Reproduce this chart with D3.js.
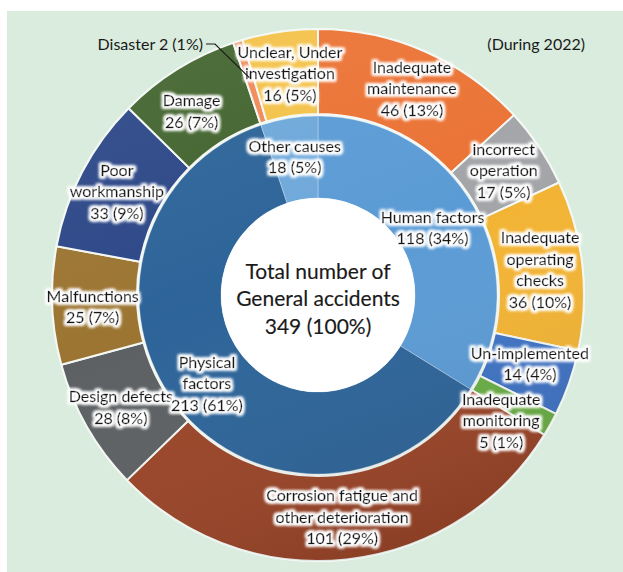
<!DOCTYPE html>
<html>
<head>
<meta charset="utf-8">
<script src="https://cdn.jsdelivr.net/npm/d3@7"></script>
<style>
  html, body { margin: 0; padding: 0; background: #ffffff; }
  svg { display: block; }
  text { font-family: Lato, "Noto Sans", sans-serif; fill: #1a1a1a; }
</style>
</head>
<body>
<svg id="chart" width="623" height="572"></svg>
<script>
// ---------------- data ----------------
const innerCategories = ["Human factors", "Physical factors", "Other causes"];
const innerValues = [118, 213, 18];
const innerLabelLines = [["Human factors"], ["Physical", "factors"], ["Other causes"]];

const outerCategories = [
  "Inadequate maintenance", "incorrect operation", "Inadequate operating checks",
  "Un-implemented", "Inadequate monitoring",
  "Corrosion fatigue and other deterioration", "Design defects", "Malfunctions",
  "Poor workmanship", "Damage",
  "Disaster", "Unclear, Under investigation"
];
const outerValues = [46, 17, 36, 14, 5, 101, 28, 25, 33, 26, 2, 16];
const outerLabelLines = [
  ["Inadequate", "maintenance"], ["incorrect", "operation"], ["Inadequate", "operating", "checks"],
  ["Un-implemented"], ["Inadequate", "monitoring"],
  ["Corrosion fatigue and", "other deterioration"], ["Design defects"], ["Malfunctions"],
  ["Poor", "workmanship"], ["Damage"],
  ["Disaster"], ["Unclear, Under", "investigation"]
];
const centerLines = ["Total number of", "General accidents"];
const periodNote = "(During 2022)";

// ---------------- styles ----------------
const innerColors = ["#5b9bd5", "#2d6499", "#6ea8da"];
const outerColors = ["#eb7335", "#a3a5a8", "#f3b434", "#3f73c4", "#6aae45",
                     "#9b4528", "#5d6063", "#9c7532", "#2d4888", "#43652f",
                     "#f08a5a", "#f4c24a"];
// small label nudges (dx, dy) from computed centroid
const outerNudge = {"Inadequate monitoring": [-12, 17], "Damage": [-8, 6], "Un-implemented": [1, -5],
                    "Unclear, Under investigation": [4, 0], "Inadequate maintenance": [4, -2],
                    "Poor workmanship": [-3, 0], "Malfunctions": [-2, 3], "Design defects": [-3, 2]};
const innerNudge = {"Human factors": [-6, 0], "Physical factors": [-3, 3], "Other causes": [-1, -2]};

const W = 623, H = 572;
const cx = 318, cy = 295;
const rHole = 97, rMid = 179, rOuterIn = 181, rOuter = 266;
const lineH = 21.5;
const fs = 16;

const svg = d3.select("#chart");
const defs = svg.append("defs");

const f = defs.append("filter").attr("id", "halo")
  .attr("x", "-30%").attr("y", "-60%").attr("width", "160%").attr("height", "220%");
f.append("feMorphology").attr("in", "SourceAlpha").attr("operator", "dilate").attr("radius", 1.8).attr("result", "d");
f.append("feGaussianBlur").attr("in", "d").attr("stdDeviation", 1.6).attr("result", "b");
f.append("feFlood").attr("flood-color", "#ffffff").attr("flood-opacity", 1).attr("result", "w");
f.append("feComposite").attr("in", "w").attr("in2", "b").attr("operator", "in").attr("result", "g");
const fm = f.append("feMerge");
fm.append("feMergeNode").attr("in", "g");
fm.append("feMergeNode").attr("in", "g");
fm.append("feMergeNode").attr("in", "SourceGraphic");

const shade = defs.append("linearGradient").attr("id", "shade")
  .attr("gradientUnits", "userSpaceOnUse")
  .attr("x1", -100).attr("y1", -rOuter).attr("x2", 100).attr("y2", rOuter);
shade.append("stop").attr("offset", "0%").attr("stop-color", "#ffffff").attr("stop-opacity", 0.06);
shade.append("stop").attr("offset", "45%").attr("stop-color", "#ffffff").attr("stop-opacity", 0);
shade.append("stop").attr("offset", "100%").attr("stop-color", "#000000").attr("stop-opacity", 0.12);

// background panel
svg.append("rect").attr("x", 7).attr("y", 11).attr("width", W - 7).attr("height", H - 11)
  .attr("fill", "#d9ecdd");

const g = svg.append("g").attr("transform", `translate(${cx},${cy})`);

const pie = d3.pie().sort(null).value(d => d).startAngle(0).endAngle(2 * Math.PI);
const innerArcs = pie(innerValues);
const outerArcs = pie(outerValues);
const total = d3.sum(innerValues);
const pct = v => Math.round(v / total * 100) + "%";

const arcInner = d3.arc().innerRadius(rHole).outerRadius(rMid);
const arcOuter = d3.arc().innerRadius(rOuterIn).outerRadius(rOuter);

// ring gap background
g.append("circle").attr("r", rOuter + 1).attr("fill", "#f1f6f1");

g.selectAll("path.outer").data(outerArcs).join("path")
  .attr("class", "outer")
  .attr("d", arcOuter)
  .attr("fill", (d, i) => outerColors[i])
  .attr("stroke", "#f4f8f4").attr("stroke-width", 2);

g.selectAll("path.inner").data(innerArcs).join("path")
  .attr("class", "inner")
  .attr("d", arcInner)
  .attr("fill", (d, i) => innerColors[i])
  .attr("stroke", "rgba(255,255,255,0.3)").attr("stroke-width", 1);

// shading overlay
g.append("path").attr("d", d3.arc().innerRadius(rHole).outerRadius(rOuter)({startAngle: 0, endAngle: 2 * Math.PI}))
  .attr("fill", "url(#shade)");

g.append("circle").attr("r", rHole).attr("fill", "#ffffff");

// labels
function multiLine(sel, lines, x, y) {
  const n = lines.length;
  const t = sel.append("text").attr("text-anchor", "middle").attr("font-size", fs)
    .attr("stroke", "#1a1a1a").attr("stroke-width", 0.3)
    .attr("filter", "url(#halo)");
  lines.forEach((ln, k) => {
    t.append("tspan").attr("x", x).attr("y", y + (k - (n - 1) / 2) * lineH).attr("dy", "0.35em").text(ln);
  });
  return t;
}

const labelArcOuter = d3.arc().innerRadius(rOuterIn + 2).outerRadius(rOuter - 2);
const labelArcInner = d3.arc().innerRadius(rHole).outerRadius(rMid);
const lab = g.append("g");

outerArcs.forEach((a, i) => {
  const name = outerCategories[i];
  if (name === "Disaster") return;
  const [x, y] = labelArcOuter.centroid(a);
  const nd = outerNudge[name] || [0, 0];
  const lines = outerLabelLines[i].concat([`${outerValues[i]} (${pct(outerValues[i])})`]);
  multiLine(lab, lines, x + nd[0], y + nd[1]);
});

innerArcs.forEach((a, i) => {
  const name = innerCategories[i];
  const [x, y] = labelArcInner.centroid(a);
  const nd = innerNudge[name] || [0, 0];
  const lines = innerLabelLines[i].concat([`${innerValues[i]} (${pct(innerValues[i])})`]);
  multiLine(lab, lines, x + nd[0], y + nd[1]);
});

// Disaster external label with leader line
{
  const i = outerCategories.indexOf("Disaster");
  const a = outerArcs[i];
  const mid = (a.startAngle + a.endAngle) / 2;
  const r0 = 228;
  const px = r0 * Math.sin(mid), py = -r0 * Math.cos(mid);
  const ty = -(cy - 44);
  const tx = -(cx - 203);
  g.append("polyline")
    .attr("points", `${tx + 3},${ty} ${tx + 12},${ty} ${px},${py}`)
    .attr("fill", "none").attr("stroke", "#1a1a1a").attr("stroke-width", 1.2);
  g.append("text").attr("x", tx).attr("y", ty).attr("dy", "0.35em")
    .attr("text-anchor", "end").attr("font-size", fs)
    .text(`${outerLabelLines[i][0]} ${outerValues[i]} (${pct(outerValues[i])})`);
}

// center text
const ct = g.append("text").attr("text-anchor", "middle").attr("font-size", 21)
  .attr("stroke", "#1a1a1a").attr("stroke-width", 0.15);
const cl = centerLines.concat([`${total} (100%)`]);
cl.forEach((ln, k) => {
  ct.append("tspan").attr("x", 0).attr("y", (k - 1) * 27.5 + 4).attr("dy", "0.35em").text(ln);
});

// period note
svg.append("text").attr("x", 585).attr("y", 44).attr("dy", "0.35em")
  .attr("text-anchor", "end").attr("font-size", fs).text(periodNote);
</script>
</body>
</html>
